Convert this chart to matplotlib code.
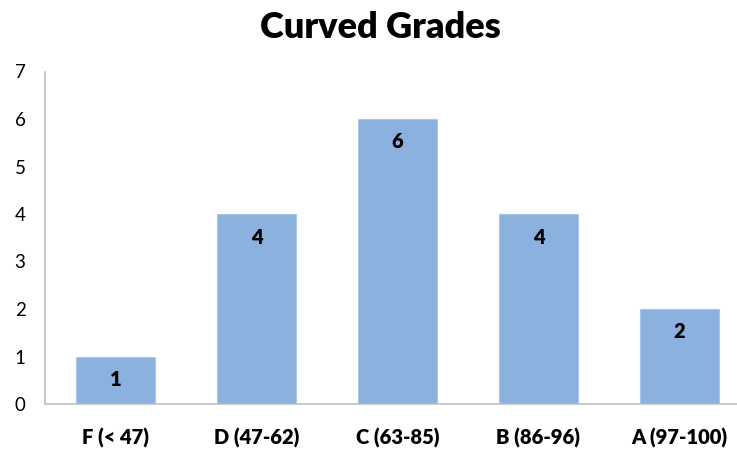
import matplotlib.pyplot as plt

categories = ["F (< 47)", "D (47-62)", "C (63-85)", "B (86-96)", "A (97-100)"]
counts = [1, 4, 6, 4, 2]

plt.rcParams["font.family"] = ["Lato", "DejaVu Sans"]

fig = plt.figure(figsize=(7.37, 4.5), dpi=100)
ax = fig.add_axes([45 / 737, 46 / 450, 705 / 737, 332.5 / 450])

x = range(len(categories))
bars = ax.bar(x, counts, width=0.567, color="#8BB1DF", edgecolor="#A9C6EA", linewidth=0.8)

# value labels sit just inside the top of each bar
for rect, value in zip(bars, counts):
    ax.annotate(str(value), (rect.get_x() + rect.get_width() / 2, value),
                xytext=(0, -23), textcoords="offset pixels",
                ha="center", va="center", fontsize=14.5, fontweight="heavy")

ax.set_xlim(-0.5, len(categories) - 0.5)
ax.set_ylim(0, 7)
ax.set_yticks(range(8))
ax.set_xticks(list(x))
ax.set_xticklabels(categories, fontsize=14.5, fontweight="heavy")
ax.tick_params(axis="both", length=0)
ax.tick_params(axis="y", labelsize=13.5, pad=14)
ax.tick_params(axis="x", pad=17)

for side in ["top", "right"]:
    ax.spines[side].set_visible(False)
for side in ["left", "bottom"]:
    ax.spines[side].set_color("#BFBFBF")
    ax.spines[side].set_linewidth(1.2)

fig.text(380 / 737, 1 - 27 / 450, "Curved Grades", ha="center", va="center",
         fontsize=26, fontweight="heavy")

fig.savefig("out.png", dpi=100)
